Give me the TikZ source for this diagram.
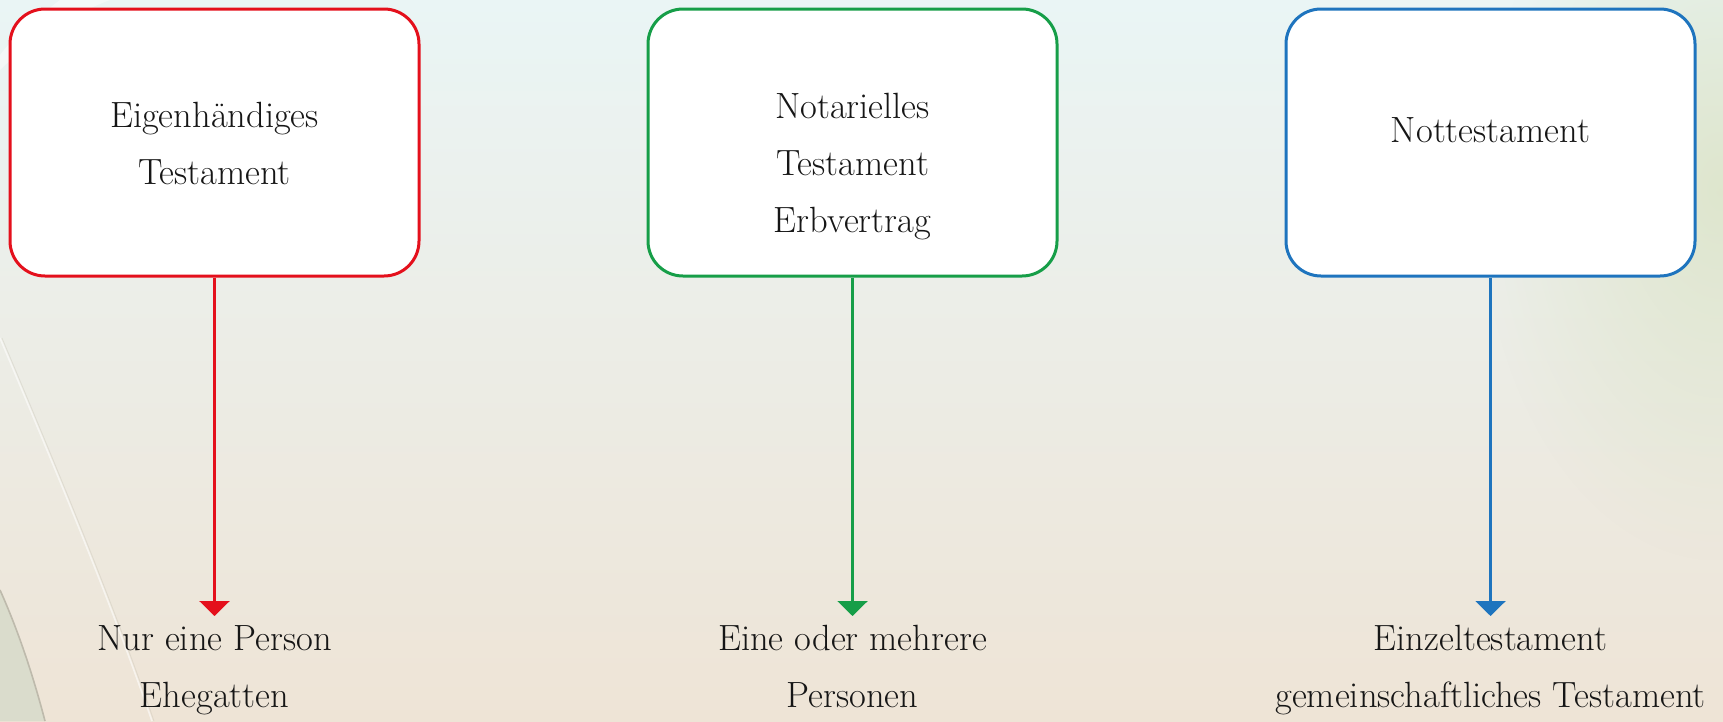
\documentclass[tikz,border=0pt]{standalone}
\usetikzlibrary{arrows.meta,fadings}
\definecolor{bgtop}{RGB}{234,245,245}
\definecolor{bgmid}{RGB}{243,242,234}
\definecolor{bgbot}{RGB}{238,228,214}
\definecolor{tintgreen}{RGB}{220,228,200}
\definecolor{wedge}{RGB}{218,220,204}
\definecolor{wedgeedge}{RGB}{190,186,172}
\definecolor{cred}{RGB}{228,16,28}
\definecolor{cgreen}{RGB}{22,158,72}
\definecolor{cblue}{RGB}{30,116,190}
\definecolor{ink}{RGB}{22,22,22}
\tikzfading[name=glow, inner color=transparent!15, outer color=transparent!100]
\tikzset{
  card/.style={draw=#1, fill=white, line width=3pt, rounded corners=35pt,
    minimum width=409pt, minimum height=267pt, inner sep=0pt},
  caption/.style={font=\fontsize{36.5}{57}\selectfont, text=ink, align=center,
    inner sep=0pt, anchor=north},
  link/.style={draw=#1, line width=2.4pt, shorten >=9pt,
    -{Triangle[width=30pt,length=15pt,fill=#1]}},
}
\begin{document}
\begin{tikzpicture}[x=1pt,y=-1pt]
  % page background
  \useasboundingbox (0,0) rectangle (1723,721);
  \shade[top color=bgtop, middle color=bgmid, bottom color=bgbot]
    (0,0) rectangle (1723,721);
  \fill[tintgreen, path fading=glow] (1480,-180) rectangle (1960,560);
  \fill[white, opacity=0.45] (0,70) .. controls (30,40) and (70,15) .. (110,0)
    -- (60,0) .. controls (40,15) and (15,35) .. (0,55) -- cycle;
  % swoosh at the lower left
  \draw[white, opacity=0.55, line width=1.6pt] (0,338) .. controls (60,480) and (110,600) .. (152,721);
  \draw[wedgeedge, opacity=0.3, line width=0.8pt] (2,338) .. controls (62,480) and (112,600) .. (154,721);
  \fill[wedge] (0,590) .. controls (18,630) and (33,675) .. (45,721) -- (0,721) -- cycle;
  \draw[wedgeedge, line width=1.6pt] (0,590) .. controls (18,630) and (33,675) .. (45,721);

  % the three kinds of testament
  \node[card=cred]   (eigen)  at (214.5,142.5)  {};
  \node[card=cgreen] (notar)  at (852.5,142.5)  {};
  \node[card=cblue]  (not)    at (1490.5,142.5) {};

  \node[caption] (eigentxt) at (214.5,102) {Eigenhändiges\\Testament};
  \node[caption] (notartxt) at (852.5,93)  {Notarielles\\Testament\\Erbvertrag};
  \node[caption] (nottxt)   at (1490.5,117) {Nottestament};

  % who may make it
  \node[caption] (eigenwho) at (214.5,625)  {Nur eine Person\\Ehegatten};
  \node[caption] (notarwho) at (852.5,625)  {Eine oder mehrere\\Personen};
  \node[caption] (notwho)   at (1490.5,625) {Einzeltestament\\gemeinschaftliches Testament};

  \draw[link=cred]   (eigen.south) -- (eigen.south |- eigenwho.north);
  \draw[link=cgreen] (notar.south) -- (notar.south |- notarwho.north);
  \draw[link=cblue]  (not.south)   -- (not.south |- notwho.north);
\end{tikzpicture}
\end{document}
